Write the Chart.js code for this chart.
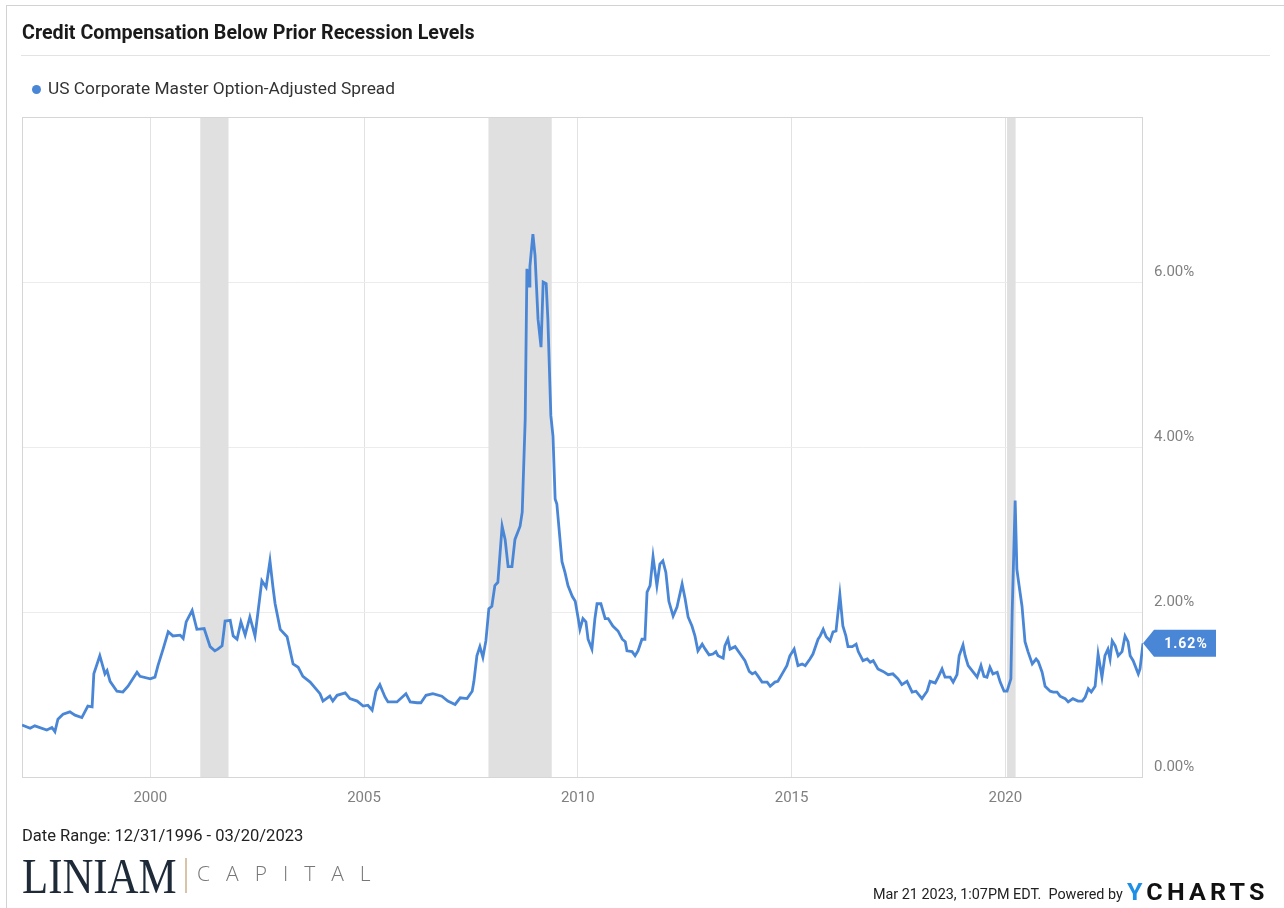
<!DOCTYPE html>
<html>
<head>
<meta charset="utf-8">
<script src="https://cdn.jsdelivr.net/npm/chart.js@4.4.1/dist/chart.umd.min.js"></script>
<style>
  body { margin: 0; background: #fff; width: 1284px; height: 908px; overflow: hidden; position: relative; font-family: Roboto, sans-serif; }
  canvas { position: absolute; left: 0; top: 0; }
  .txt { position: absolute; white-space: nowrap; transform-origin: left top; z-index: 2; }
  .line { position: absolute; z-index: 2; }
</style>
</head>
<body>
<canvas id="spread-chart" width="1284" height="908"></canvas>

<div class="line" style="left:6px;top:5px;width:1278px;height:1px;background:#d2d2d2"></div>
<div class="line" style="left:6px;top:5px;width:1px;height:903px;background:#d2d2d2"></div>

<div class="txt" id="title" style="left:22px;top:20px;font-size:20px;font-weight:700;color:#1a1a1a">Credit Compensation Below Prior Recession Levels</div>
<div class="line" style="left:21px;top:55px;width:1249px;height:1px;background:#e3e3e3"></div>

<div class="line" style="left:31.5px;top:84.5px;width:9px;height:9px;border-radius:50%;background:#4a86d6"></div>
<div class="txt" id="legend" style="left:48px;top:79px;font-size:16px;color:#333">US Corporate Master Option-Adjusted Spread</div>

<div class="txt" id="range" style="left:22px;top:826px;font-size:16px;color:#222">Date Range: 12/31/1996 - 03/20/2023</div>
<div class="txt" id="liniam" style="left:22px;top:847px;font-family:'Liberation Serif',serif;font-size:50px;color:#1e2a38">LINIAM</div>
<div class="line" style="left:185px;top:858px;width:1.5px;height:35px;background:#d9c4a8"></div>
<div class="txt" id="capital" style="left:197px;top:859px;font-family:'Open Sans',sans-serif;font-weight:300;font-size:21px;letter-spacing:16px;color:#777">CAPITAL</div>

<div class="txt" id="stamp" style="left:873px;top:885px;font-size:15px;color:#222">Mar 21 2023, 1:07PM EDT.&nbsp; Powered by</div>
<div class="txt" id="ycharts" style="left:1127px;top:878px;font-size:24px;font-weight:700;color:#111;letter-spacing:4px"><span style="color:#1e8fe6">Y</span>CHARTS</div>

<script>
// monthly-ish readings, decimal years
const dates = [
  1997.00, 1997.19, 1997.30, 1997.58, 1997.70, 1997.77, 1997.84, 1997.96, 1998.12, 1998.24,
  1998.40, 1998.54, 1998.64, 1998.68, 1998.82, 1998.94, 1998.99, 1999.06, 1999.22, 1999.36,
  1999.48, 1999.69, 1999.76, 2000.00, 2000.11, 2000.18, 2000.30, 2000.42, 2000.53, 2000.70,
  2000.77, 2000.84, 2000.98, 2001.09, 2001.26, 2001.40, 2001.51, 2001.58, 2001.68, 2001.75,
  2001.87, 2001.94, 2002.03, 2002.12, 2002.22, 2002.33, 2002.45, 2002.52, 2002.61, 2002.71,
  2002.80, 2002.87, 2002.92, 2003.04, 2003.20, 2003.34, 2003.46, 2003.57, 2003.74, 2003.97,
  2004.04, 2004.20, 2004.27, 2004.37, 2004.56, 2004.67, 2004.84, 2004.98, 2005.09, 2005.19,
  2005.28, 2005.37, 2005.49, 2005.56, 2005.77, 2005.98, 2006.08, 2006.24, 2006.33, 2006.45,
  2006.61, 2006.82, 2006.96, 2007.13, 2007.25, 2007.41, 2007.53, 2007.57, 2007.64, 2007.71,
  2007.78, 2007.85, 2007.92, 2007.99, 2008.06, 2008.13, 2008.23, 2008.30, 2008.37, 2008.46,
  2008.53, 2008.65, 2008.70, 2008.77, 2008.81, 2008.86, 2008.88, 2008.95, 2009.00, 2009.07,
  2009.14, 2009.19, 2009.26, 2009.30, 2009.37, 2009.42, 2009.47, 2009.51, 2009.63, 2009.70,
  2009.77, 2009.87, 2009.94, 2010.01, 2010.05, 2010.12, 2010.19, 2010.24, 2010.33, 2010.40,
  2010.45, 2010.54, 2010.64, 2010.71, 2010.82, 2010.94, 2011.04, 2011.11, 2011.15, 2011.27,
  2011.34, 2011.41, 2011.50, 2011.57, 2011.62, 2011.69, 2011.76, 2011.85, 2011.92, 2011.99,
  2012.06, 2012.13, 2012.23, 2012.32, 2012.44, 2012.51, 2012.58, 2012.67, 2012.74, 2012.81,
  2012.91, 2012.98, 2013.07, 2013.16, 2013.23, 2013.28, 2013.40, 2013.44, 2013.51, 2013.56,
  2013.68, 2013.80, 2013.91, 2014.01, 2014.08, 2014.15, 2014.22, 2014.31, 2014.43, 2014.50,
  2014.61, 2014.68, 2014.78, 2014.89, 2014.96, 2015.06, 2015.15, 2015.25, 2015.32, 2015.43,
  2015.50, 2015.62, 2015.67, 2015.74, 2015.81, 2015.90, 2015.97, 2016.04, 2016.13, 2016.20,
  2016.27, 2016.32, 2016.42, 2016.51, 2016.56, 2016.67, 2016.77, 2016.84, 2016.91, 2017.02,
  2017.14, 2017.26, 2017.37, 2017.49, 2017.58, 2017.70, 2017.82, 2017.91, 2018.05, 2018.17,
  2018.24, 2018.36, 2018.43, 2018.52, 2018.59, 2018.71, 2018.78, 2018.87, 2018.92, 2019.01,
  2019.06, 2019.13, 2019.25, 2019.34, 2019.43, 2019.50, 2019.57, 2019.64, 2019.71, 2019.81,
  2019.88, 2019.97, 2020.04, 2020.13, 2020.16, 2020.23, 2020.27, 2020.30, 2020.39, 2020.46,
  2020.53, 2020.63, 2020.72, 2020.77, 2020.86, 2020.93, 2021.05, 2021.12, 2021.21, 2021.28,
  2021.40, 2021.47, 2021.58, 2021.70, 2021.80, 2021.87, 2021.94, 2022.01, 2022.10, 2022.17,
  2022.26, 2022.33, 2022.40, 2022.45, 2022.50, 2022.57, 2022.64, 2022.73, 2022.80, 2022.87,
  2022.92, 2022.99, 2023.11, 2023.15, 2023.22
];

const spread = [
  0.63, 0.59, 0.62, 0.57, 0.60, 0.55, 0.70, 0.76, 0.79, 0.75,
  0.72, 0.86, 0.85, 1.25, 1.47, 1.25, 1.29, 1.16, 1.04, 1.03,
  1.10, 1.27, 1.22, 1.19, 1.21, 1.35, 1.55, 1.76, 1.71, 1.72,
  1.68, 1.88, 2.02, 1.79, 1.80, 1.58, 1.53, 1.55, 1.59, 1.89,
  1.90, 1.71, 1.67, 1.88, 1.72, 1.94, 1.71, 2.00, 2.38, 2.30,
  2.62, 2.30, 2.10, 1.79, 1.70, 1.37, 1.33, 1.22, 1.15, 1.01,
  0.92, 0.98, 0.92, 0.99, 1.02, 0.95, 0.92, 0.86, 0.87, 0.81,
  1.04, 1.12, 0.97, 0.91, 0.91, 1.01, 0.91, 0.90, 0.90, 0.99,
  1.01, 0.98, 0.92, 0.88, 0.96, 0.95, 1.04, 1.16, 1.47, 1.58,
  1.45, 1.65, 2.04, 2.07, 2.32, 2.36, 3.04, 2.88, 2.55, 2.55,
  2.88, 3.04, 3.21, 4.34, 6.16, 5.95, 6.19, 6.58, 6.32, 5.55,
  5.21, 6.00, 5.98, 5.55, 4.38, 4.13, 3.37, 3.31, 2.61, 2.48,
  2.32, 2.19, 2.13, 1.92, 1.79, 1.92, 1.88, 1.67, 1.55, 1.92,
  2.10, 2.10, 1.92, 1.92, 1.83, 1.77, 1.67, 1.64, 1.53, 1.52,
  1.47, 1.53, 1.67, 1.67, 2.24, 2.32, 2.67, 2.32, 2.58, 2.62,
  2.48, 2.13, 1.95, 2.06, 2.34, 2.16, 1.94, 1.83, 1.71, 1.53,
  1.61, 1.55, 1.48, 1.49, 1.52, 1.47, 1.44, 1.59, 1.67, 1.55,
  1.58, 1.49, 1.41, 1.28, 1.25, 1.27, 1.22, 1.15, 1.15, 1.10,
  1.15, 1.16, 1.25, 1.35, 1.47, 1.55, 1.35, 1.37, 1.35, 1.43,
  1.49, 1.67, 1.71, 1.79, 1.70, 1.65, 1.76, 1.77, 2.21, 1.83,
  1.71, 1.58, 1.58, 1.61, 1.52, 1.41, 1.43, 1.39, 1.41, 1.31,
  1.28, 1.24, 1.25, 1.19, 1.12, 1.16, 1.03, 1.04, 0.95, 1.04,
  1.16, 1.14, 1.21, 1.31, 1.21, 1.21, 1.15, 1.24, 1.47, 1.60,
  1.47, 1.35, 1.27, 1.21, 1.35, 1.22, 1.21, 1.33, 1.25, 1.27,
  1.15, 1.04, 1.04, 1.19, 2.00, 3.35, 2.52, 2.40, 2.07, 1.64,
  1.52, 1.37, 1.43, 1.40, 1.27, 1.10, 1.04, 1.03, 1.03, 0.98,
  0.95, 0.91, 0.95, 0.92, 0.92, 0.97, 1.07, 1.03, 1.10, 1.49,
  1.21, 1.47, 1.55, 1.43, 1.65, 1.59, 1.47, 1.52, 1.71, 1.64,
  1.47, 1.41, 1.25, 1.31, 1.62
];

// recessions (shaded)
const recessionStart = [2001.17, 2007.91, 2020.04];
const recessionEnd = [2001.83, 2009.39, 2020.24];

const yearTicks = [2000, 2005, 2010, 2015, 2020];
const percentTicks = [0, 2, 4, 6];

const lineColor = '#4a86d6';

const points = dates.map((d, i) => ({ x: d, y: spread[i] }));

const recessionBands = {
  id: 'recessionBands',
  beforeDatasetsDraw(chart) {
    const { ctx, chartArea, scales } = chart;
    ctx.save();
    ctx.fillStyle = '#e0e0e0';
    recessionStart.forEach((s, i) => {
      const x1 = scales.x.getPixelForValue(s);
      const x2 = scales.x.getPixelForValue(recessionEnd[i]);
      ctx.fillRect(x1, chartArea.top, x2 - x1, chartArea.bottom - chartArea.top);
    });
    // plot frame
    ctx.strokeStyle = '#d6d6d6';
    ctx.lineWidth = 1;
    ctx.strokeRect(chartArea.left + 0.5, chartArea.top + 0.5,
      chartArea.right - chartArea.left - 1, chartArea.bottom - chartArea.top);
    ctx.restore();
  }
};

const lastValueTag = {
  id: 'lastValueTag',
  afterDatasetsDraw(chart) {
    const { ctx, chartArea, scales } = chart;
    const lastVal = spread[spread.length - 1];
    const y = scales.y.getPixelForValue(lastVal);
    const x0 = chartArea.right;
    ctx.save();
    ctx.fillStyle = lineColor;
    ctx.beginPath();
    ctx.moveTo(x0, y);
    ctx.lineTo(x0 + 11, y - 13.5);
    ctx.lineTo(x0 + 73, y - 13.5);
    ctx.lineTo(x0 + 73, y + 13.5);
    ctx.lineTo(x0 + 11, y + 13.5);
    ctx.closePath();
    ctx.fill();
    ctx.fillStyle = '#fff';
    ctx.font = 'bold 14px Roboto';
    ctx.textAlign = 'center';
    ctx.textBaseline = 'middle';
    if ('letterSpacing' in ctx) ctx.letterSpacing = '1px';
    ctx.fillText(lastVal.toFixed(2) + '%', x0 + 43, y + 1);
    ctx.restore();
  }
};

Chart.defaults.font.family = 'Roboto';

const spreadChart = new Chart(document.getElementById('spread-chart'), {
  type: 'line',
  data: {
    datasets: [{
      label: 'US Corporate Master Option-Adjusted Spread',
      data: points,
      borderColor: lineColor,
      borderWidth: 2.8,
      pointRadius: 0,
      tension: 0,
      fill: false
    }]
  },
  options: {
    responsive: false,
    animation: false,
    devicePixelRatio: 1,
    layout: { padding: { left: 22, top: 117, right: 0, bottom: 91 } },
    plugins: {
      legend: { display: false },
      tooltip: { enabled: false }
    },
    scales: {
      x: {
        type: 'linear',
        min: 1997.0,
        max: 2023.22,
        afterBuildTicks: (scale) => { scale.ticks = yearTicks.map(v => ({ value: v })); },
        afterFit: (scale) => { scale.height = 40; },
        grid: { color: '#e2e2e2', drawTicks: false },
        border: { display: false },
        ticks: {
          color: '#808080',
          font: { size: 15 },
          padding: 12,
          maxRotation: 0,
          callback: (v) => String(v)
        }
      },
      y: {
        position: 'right',
        min: 0,
        max: 8,
        afterBuildTicks: (scale) => { scale.ticks = percentTicks.concat([8]).map(v => ({ value: v })); },
        afterFit: (scale) => { scale.width = 141; },
        grid: { color: '#ececec', drawTicks: false },
        border: { display: false },
        ticks: {
          color: '#808080',
          font: { size: 15 },
          padding: 11,
          labelOffset: -10,
          callback: (v) => v === 8 ? '' : v.toFixed(2) + '%'
        }
      }
    }
  },
  plugins: [recessionBands, lastValueTag]
});

// squeeze text blocks to the widths seen in the original
// (offsetWidth ignores transforms, so this can run more than once)
function fitWidth(id, target) {
  const el = document.getElementById(id);
  const w = el.offsetWidth;
  if (w > 0) el.style.transform = 'scaleX(' + (target / w) + ')';
}
function fitAll() {
  fitWidth('title', 453);
  fitWidth('legend', 347);
  fitWidth('range', 281);
  fitWidth('liniam', 155);
  fitWidth('stamp', 250);
  fitWidth('ycharts', 142);
}
fitAll();
if (document.fonts) document.fonts.ready.then(fitAll);
</script>
</body>
</html>
